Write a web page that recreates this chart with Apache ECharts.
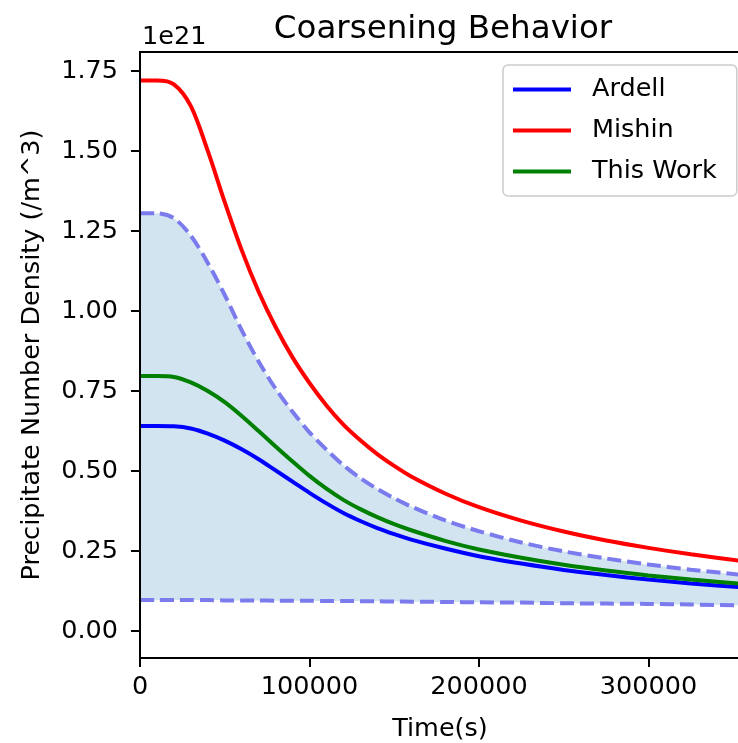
<!DOCTYPE html>
<html>
<head>
<meta charset="utf-8">
<script src="https://cdn.jsdelivr.net/npm/echarts@6/dist/echarts.min.js"></script>
<style>
  html, body { margin: 0; padding: 0; background: #fff; }
  #chart { width: 738px; height: 743px; }
</style>
</head>
<body>
<div id="chart"></div>
<script>
// time in seconds, densities in units of 1e21 /m^3
var timeS = [0, 10000, 20000, 30000, 40000, 50000, 60000, 70000, 80000, 90000, 100000, 110000,
  120000, 130000, 140000, 150000, 160000, 180000, 200000, 225000, 250000, 275000, 300000, 325000, 360000];
var ardell = [0.641, 0.641, 0.640, 0.633, 0.617, 0.595, 0.568, 0.537, 0.502, 0.467, 0.432, 0.399,
  0.369, 0.344, 0.322, 0.303, 0.286, 0.258, 0.234, 0.211, 0.191, 0.175, 0.161, 0.149, 0.135];
var mishin = [1.720, 1.720, 1.708, 1.640, 1.500, 1.340, 1.190, 1.060, 0.950, 0.855, 0.775, 0.705,
  0.645, 0.596, 0.553, 0.516, 0.483, 0.430, 0.387, 0.345, 0.311, 0.283, 0.260, 0.240, 0.216];
var thisWork = [0.797, 0.797, 0.794, 0.777, 0.750, 0.715, 0.672, 0.625, 0.577, 0.530, 0.485, 0.445,
  0.410, 0.381, 0.356, 0.334, 0.315, 0.282, 0.255, 0.229, 0.207, 0.189, 0.174, 0.161, 0.146];
var upperBound = [1.305, 1.305, 1.290, 1.235, 1.150, 1.050, 0.940, 0.842, 0.757, 0.685, 0.621, 0.567,
  0.518, 0.478, 0.444, 0.415, 0.389, 0.346, 0.312, 0.277, 0.249, 0.227, 0.208, 0.192, 0.173];
var lowerBound = [0.097, 0.097, 0.097, 0.097, 0.097, 0.096, 0.096, 0.096, 0.095, 0.095, 0.095, 0.094,
  0.094, 0.0935, 0.093, 0.0925, 0.092, 0.091, 0.090, 0.089, 0.087, 0.086, 0.085, 0.083, 0.080];
var yTicks = [0, 0.25, 0.5, 0.75, 1.0, 1.25, 1.5, 1.75];

function pairs(ys) {
  return timeS.map(function (t, i) { return [t, ys[i]]; });
}

var font = 'DejaVu Sans';
var dashColor = '#7b7bee';
var lw = 4;

var chart = echarts.init(document.getElementById('chart'));
chart.setOption({
  animation: false,
  title: {
    text: 'Coarsening Behavior',
    left: 438, top: 8, textAlign: 'center',
    textStyle: { fontFamily: font, fontSize: 32.5, fontWeight: 'normal', color: '#000' }
  },
  graphic: [{
    type: 'text', left: 142, top: 24,
    style: { text: '1e21', fontFamily: font, fontSize: 25.5, fill: '#000' }
  }],
  legend: {
    data: ['Ardell', 'Mishin', 'This Work'],
    orient: 'vertical',
    left: 503, top: 65,
    padding: [10, 20, 10, 10],
    icon: 'rect',
    itemWidth: 58, itemHeight: 4, itemGap: 12,
    borderColor: '#cccccc', borderWidth: 1.5, borderRadius: 5,
    backgroundColor: '#fff',
    textStyle: { fontFamily: font, fontSize: 25.5, color: '#000', lineHeight: 29, padding: [0, 0, 0, 16] }
  },
  grid: { left: 140, top: 52, right: -2, bottom: 85, outerBoundsMode: 'none', containLabel: false,
    show: true, borderColor: '#000', borderWidth: 2, backgroundColor: 'transparent' },
  xAxis: {
    type: 'value', min: 0, max: 354000, interval: 100000, z: 10,
    name: 'Time(s)', nameLocation: 'middle', nameGap: 58,
    nameTextStyle: { fontFamily: font, fontSize: 25.5, color: '#000' },
    axisLine: { show: true, onZero: false, lineStyle: { color: '#000', width: 2 } },
    axisTick: { show: true, length: 9, lineStyle: { color: '#000', width: 2 } },
    axisLabel: { fontFamily: font, fontSize: 25.5, color: '#000', margin: 16,
      formatter: function (v) { return String(v); } },
    splitLine: { show: false }
  },
  yAxis: {
    type: 'value', min: -0.084, max: 1.809, z: 10,
    name: 'Precipitate Number Density (/m^3)', nameLocation: 'middle', nameGap: 95, nameRotate: 90,
    nameTextStyle: { fontFamily: font, fontSize: 25.5, color: '#000' },
    axisLine: { show: true, onZero: false, lineStyle: { color: '#000', width: 2 } },
    axisTick: { show: true, length: 9, customValues: yTicks, lineStyle: { color: '#000', width: 2 } },
    axisLabel: { fontFamily: font, fontSize: 25.5, color: '#000', margin: 22, customValues: yTicks,
      formatter: function (v) { return v.toFixed(2); } },
    splitLine: { show: false }
  },
  series: [
    // band fill: blue under the upper bound, then white under the lower bound
    { name: 'upperFill', type: 'line', data: pairs(upperBound), symbol: 'none', smooth: 0.3, silent: true, z: 1,
      lineStyle: { opacity: 0 }, areaStyle: { color: 'rgba(31,119,180,0.2)', opacity: 1, origin: 'start' } },
    { name: 'lowerFill', type: 'line', data: pairs(lowerBound), symbol: 'none', smooth: 0.3, silent: true, z: 1,
      lineStyle: { opacity: 0 }, areaStyle: { color: '#ffffff', opacity: 1, origin: 'start' } },
    { name: 'upper', type: 'line', data: pairs(upperBound), symbol: 'none', smooth: 0.3, z: 2,
      lineStyle: { color: dashColor, width: lw, type: [14, 6] } },
    { name: 'lower', type: 'line', data: pairs(lowerBound), symbol: 'none', smooth: 0.3, z: 2,
      lineStyle: { color: dashColor, width: lw, type: [14, 6] } },
    { name: 'Ardell', type: 'line', data: pairs(ardell), symbol: 'none', smooth: 0.3, z: 3,
      color: '#0000ff', lineStyle: { color: '#0000ff', width: lw } },
    { name: 'Mishin', type: 'line', data: pairs(mishin), symbol: 'none', smooth: 0.3, z: 3,
      color: '#ff0000', lineStyle: { color: '#ff0000', width: lw } },
    { name: 'This Work', type: 'line', data: pairs(thisWork), symbol: 'none', smooth: 0.3, z: 3,
      color: '#008000', lineStyle: { color: '#008000', width: lw } }
  ]
});
</script>
</body>
</html>
